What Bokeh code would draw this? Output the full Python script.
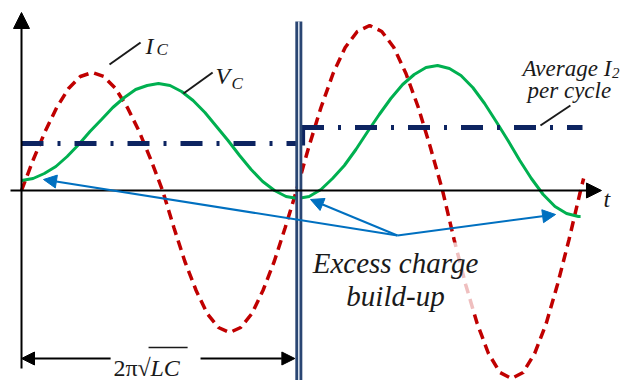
from bokeh.plotting import figure
from bokeh.models import Range1d, Arrow, NormalHead
from bokeh.core.properties import value
from bokeh.embed import file_html
from bokeh.resources import INLINE

# time in units of one LC period, amplitude in arbitrary units
PERIOD = 1.0

# capacitor current I_C (red, dashed)
ic_t = [0, 0.043, 0.086, 0.128, 0.171, 0.214, 0.257, 0.299, 0.342, 0.385, 0.428, 0.470, 0.513,
        0.554, 0.594, 0.635, 0.675, 0.716, 0.757, 0.797, 0.838, 0.878, 0.919, 0.959, 1.0,
        1.044, 1.089, 1.133, 1.177, 1.221, 1.266, 1.310, 1.354, 1.398, 1.443, 1.487, 1.531,
        1.573, 1.615, 1.657, 1.698, 1.740, 1.782, 1.824, 1.866, 1.908, 1.949, 1.991, 2.033, 2.044]
ic_a = [0, 0.31, 0.59, 0.83, 1.02, 1.14, 1.18, 1.14, 1.02, 0.83, 0.59, 0.31, 0,
        -0.37, -0.71, -1.00, -1.23, -1.37, -1.42, -1.37, -1.23, -1.00, -0.71, -0.37, 0,
        0.43, 0.83, 1.17, 1.43, 1.59, 1.65, 1.59, 1.43, 1.17, 0.83, 0.43, 0,
        -0.49, -0.94, -1.33, -1.63, -1.82, -1.88, -1.82, -1.63, -1.33, -0.94, -0.49, 0, 0.12]

# capacitor voltage V_C (green, solid)
vc_t = [0, 0.042, 0.083, 0.125, 0.166, 0.208, 0.249, 0.291, 0.332, 0.374, 0.415, 0.457, 0.498,
        0.540, 0.582, 0.624, 0.667, 0.709, 0.751, 0.793, 0.835, 0.877, 0.920, 0.962, 1.004,
        1.046, 1.089, 1.131, 1.174, 1.216, 1.259, 1.301, 1.343, 1.386, 1.428, 1.471, 1.513,
        1.556, 1.598, 1.641, 1.684, 1.726, 1.769, 1.812, 1.854, 1.897, 1.940, 1.982, 2.025, 2.033]
vc_a = [0.10, 0.12, 0.17, 0.24, 0.34, 0.46, 0.59, 0.71, 0.83, 0.93, 1.01, 1.05, 1.07,
        1.05, 0.99, 0.90, 0.78, 0.64, 0.50, 0.35, 0.21, 0.09, 0.00, -0.06, -0.08,
        -0.06, 0.01, 0.12, 0.25, 0.41, 0.59, 0.76, 0.92, 1.06, 1.16, 1.23, 1.25,
        1.22, 1.15, 1.03, 0.87, 0.69, 0.50, 0.30, 0.12, -0.04, -0.16, -0.23, -0.26, -0.26]

# average I_2 per cycle (one level per cycle)
avg_start = [0.0, 1.02]
avg_end = [1.02, 2.04]
avg_level = [0.47, 0.63]

SERIF = value("Liberation Serif")
INK = "#1a1a1a"
RED = "#c00000"
GREEN = "#00b050"
NAVY = "#0d2461"
BLUE = "#0070c0"

p = figure(width=624, height=380, x_range=Range1d(-0.0764, 2.1927), y_range=Range1d(-1.9, 1.9),
           output_backend="svg", toolbar_location=None, x_axis_type=None, y_axis_type=None,
           min_border=0, min_border_left=0, min_border_right=0, min_border_top=0, min_border_bottom=0)
p.grid.visible = False
p.outline_line_color = None
p.background_fill_color = "white"
p.border_fill_color = "white"

# axes drawn as arrows through the origin
p.add_layout(Arrow(x_start=0, y_start=-1.78, x_end=0, y_end=1.78, line_color="black", line_width=2,
                   end=NormalHead(size=16, fill_color="black", line_color="black")))
p.add_layout(Arrow(x_start=-0.04, y_start=0, x_end=2.109, y_end=0, line_color="black", line_width=2,
                   end=NormalHead(size=15, fill_color="black", line_color="black")))

# waveforms
p.line(ic_t, ic_a, line_color=RED, line_width=3.5, line_dash="10 6")
p.line(vc_t, vc_a, line_color=GREEN, line_width=3)

# average current levels
for s, e, lv in zip(avg_start, avg_end, avg_level):
    p.line([s, e], [lv, lv], line_color=NAVY, line_width=5, line_dash="22 14 3 14")
p.line([avg_end[0] + 0.004] * 2, [avg_level[0] - 0.02, avg_level[1] + 0.02], line_color=NAVY, line_width=4)

# period boundary (double line)
bx = PERIOD + 0.0084
p.line([bx, bx], [1.69, -1.9], line_color="#2a4673", line_width=7)
p.line([bx, bx], [1.69, -1.9], line_color="#dfe8f2", line_width=1.5)

# period dimension arrows
p.add_layout(Arrow(x_start=0.324, y_start=-1.68, x_end=0, y_end=-1.68, line_color="black", line_width=2,
                   end=NormalHead(size=13, fill_color="black", line_color="black")))
p.add_layout(Arrow(x_start=0.651, y_start=-1.68, x_end=PERIOD - 0.006, y_end=-1.68, line_color="black", line_width=2,
                   end=NormalHead(size=13, fill_color="black", line_color="black")))
p.text([0.422], [-1.775], text=["2π"], text_font=SERIF, text_font_size="24px",
       text_align="right", text_baseline="alphabetic", text_color=INK)
p.text([0.422], [-1.775], text=["√"], text_font=SERIF, text_font_size="24px",
       text_align="left", text_baseline="alphabetic", text_color=INK)
p.text([0.469], [-1.775], text=["LC"], text_font=SERIF, text_font_size="24px", text_font_style="italic",
       text_align="left", text_baseline="alphabetic", text_color=INK)
p.line([0.462, 0.604], [-1.57, -1.57], line_color=INK, line_width=1.5)

# excess charge callout: translucent panel behind the text
p.quad(left=[1.058], right=[1.658], top=[-0.52], bottom=[-1.23],
       fill_color="white", fill_alpha=0.75, line_color=None)
for tx, ta in [(0.08, 0.11), (1.051, -0.09), (1.942, -0.24)]:
    p.add_layout(Arrow(x_start=1.367, y_start=-0.45, x_end=tx, y_end=ta, line_color=BLUE, line_width=2,
                       end=NormalHead(size=13, fill_color=BLUE, line_color=BLUE, line_width=1)))
p.text([1.36], [-0.72], text=["Excess charge"], text_font=SERIF, text_font_size="29px",
       text_font_style="italic", text_align="center", text_baseline="alphabetic", text_color=INK)
p.text([1.36], [-1.05], text=["build-up"], text_font=SERIF, text_font_size="29px",
       text_font_style="italic", text_align="center", text_baseline="alphabetic", text_color=INK)

# curve labels with leader lines
p.line([0.32, 0.433], [1.26, 1.48], line_color=INK, line_width=2)
p.line([0.589, 0.695], [0.97, 1.18], line_color=INK, line_width=2)
p.line([1.887, 1.996], [0.65, 0.85], line_color=INK, line_width=2)

italic = dict(text_font=SERIF, text_font_style="italic", text_align="left",
              text_baseline="alphabetic", text_color=INK)
p.text([0.451], [1.45], text=["I"], text_font_size="24px", **italic)
p.text([0.491], [1.41], text=["C"], text_font_size="17px", **italic)
p.text([0.705], [1.15], text=["V"], text_font_size="24px", **italic)
p.text([0.764], [1.07], text=["C"], text_font_size="17px", **italic)
p.text([1.822], [1.22], text=["Average I"], text_font_size="23px", **italic)
p.text([2.147], [1.18], text=["2"], text_font_size="15px", **italic)
p.text([1.84], [1.00], text=["per cycle"], text_font_size="23px", **italic)
p.text([2.116], [-0.08], text=["t"], text_font_size="24px", **italic)

open("out.html", "w").write(file_html(p, INLINE))
